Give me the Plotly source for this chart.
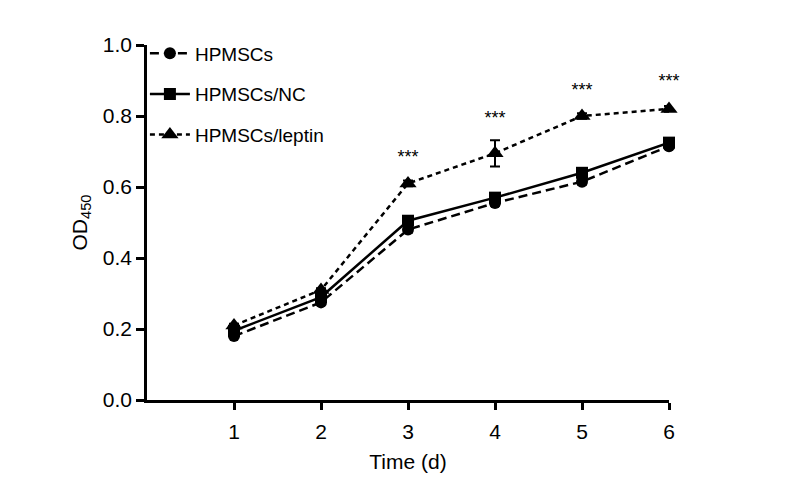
import plotly.graph_objects as go

days = [1, 2, 3, 4, 5, 6]
hpmsc = [0.18, 0.275, 0.48, 0.555, 0.615, 0.715]
hpmsc_err = [0.005, 0.005, 0.008, 0.008, 0.008, 0.008]
hpmsc_nc = [0.195, 0.29, 0.505, 0.57, 0.64, 0.725]
hpmsc_nc_err = [0.005, 0.005, 0.008, 0.008, 0.008, 0.008]
hpmsc_leptin = [0.21, 0.31, 0.61, 0.695, 0.80, 0.82]
hpmsc_leptin_err = [0.005, 0.005, 0.008, 0.037, 0.008, 0.008]
sig_days = [3, 4, 5, 6]
sig_y = [0.68, 0.79, 0.87, 0.895]
sig_text = ["***", "***", "***", "***"]
y_ticks = [0.0, 0.2, 0.4, 0.6, 0.8, 1.0]

fig = go.Figure()
series = [
    ("HPMSCs", hpmsc, hpmsc_err, "circle", "9px,5px", 12),
    ("HPMSCs/NC", hpmsc_nc, hpmsc_nc_err, "square", "solid", 12),
    ("HPMSCs/leptin", hpmsc_leptin, hpmsc_leptin_err, "triangle-up", "5px,4px", 15),
]
for i, (name, y, e, sym, dash, msize) in enumerate(series):
    fig.add_trace(go.Scatter(
        x=days, y=y, name=name, mode="lines+markers",
        legendgroup=f"g{i}", cliponaxis=False,
        line=dict(color="black", width=2.5, dash=dash),
        marker=dict(symbol=sym, size=msize, color="black"),
        error_y=dict(type="data", array=e, color="black", thickness=2, width=5),
    ))

fig.add_trace(go.Scatter(
    x=sig_days, y=sig_y, text=sig_text, mode="text", cliponaxis=False,
    textfont=dict(size=18, color="black", family="Arial"),
    showlegend=False, hoverinfo="skip",
))

fig.update_layout(
    width=792, height=488,
    margin=dict(l=139, r=131, t=37, b=96, autoexpand=False),
    paper_bgcolor="white", plot_bgcolor="white",
    font=dict(family="Arial, Liberation Sans, sans-serif", color="black"),
    showlegend=True,
    legend=dict(
        x=-0.004, y=1.03, xanchor="left", yanchor="top",
        bgcolor="rgba(0,0,0,0)", font=dict(size=19),
        tracegroupgap=13, itemwidth=40,
    ),
    xaxis=dict(
        range=[0, 6.0], tickvals=days, ticks="outside", ticklen=7, tickwidth=2.5,
        tickcolor="black", showline=True, linecolor="black", linewidth=2.5,
        showgrid=False, zeroline=False, tickfont=dict(size=21), automargin=False,
        ticklabelstandoff=4,
        title=dict(text="Time (d)", font=dict(size=21), standoff=13),
    ),
    yaxis=dict(
        range=[0, 1.0], tickvals=y_ticks, tickformat=".1f", ticks="outside",
        ticklen=8, tickwidth=2.5, tickcolor="black", showline=True,
        linecolor="black", linewidth=2.5, showgrid=False, zeroline=False,
        tickfont=dict(size=21), automargin=False,
        title=dict(text="OD<sub>450</sub>", font=dict(size=21), standoff=10),
    ),
)

fig.write_html("out.html")
